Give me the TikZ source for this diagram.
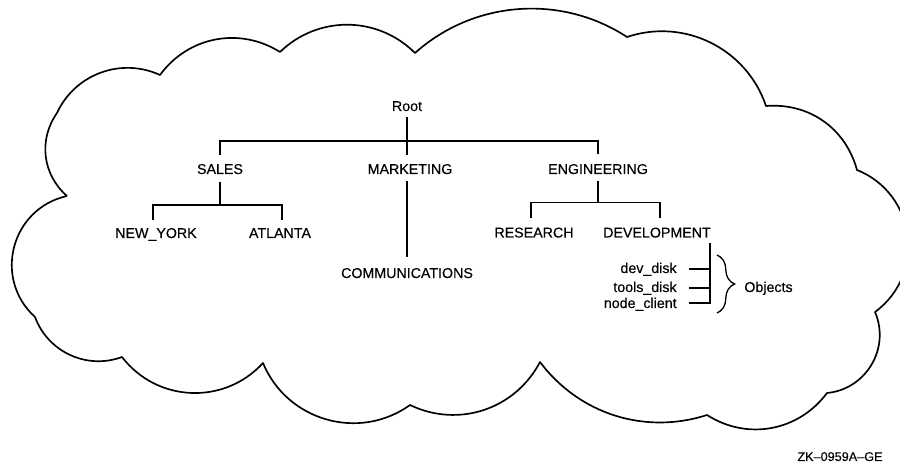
\documentclass[tikz,border=0pt]{standalone}
\usepackage{fontspec}
\setmainfont{Liberation Sans}
\newfontfamily\lblfamily{Liberation Sans}[FakeBold=0.25]
\usetikzlibrary{calc,decorations.pathreplacing}
\begin{document}
\begin{tikzpicture}[x=0.02cm,y=-0.02cm,
  lbl/.style={font=\lblfamily\fontsize{8.1}{9}\selectfont, inner sep=0pt, anchor=base},
  conn/.style={line width=0.85pt},
  cloudline/.style={line width=0.95pt, line join=round}]
\useasboundingbox (0,0) rectangle (900,462);
\begin{scope}
\clip (0,0) rectangle (900,462);
\draw[cloudline] (67,196) to[bend left=42] (57,113) to[bend left=45] (160,75)
  to[bend left=43] (280,52) to[bend left=44.5] (415,53)
  to[bend left=37.5,looseness=0.95] (627,37) to[bend left=45] (766,106)
  to[bend left=39.5] (857,170) to[bend left=61,looseness=1.14] (875,312)
  to[bend left=54,looseness=1.07] (827,393) to[bend left=43] (707,415)
  to[bend left=35.5,looseness=0.95] (540,362) to[bend left=44] (410,405)
  to[bend left=51.6,looseness=1.05] (263,363) to[bend left=50,looseness=1.04] (122,357)
  to[bend left=45] (35,317) to[bend left=62.6,looseness=1.17] (67,196);
\end{scope}

\node[lbl] (root) at (407,111) {Root};
\node[lbl] (sales) at (220,174) {SALES};
\node[lbl] (mkt) at (410,174) {MARKETING};
\node[lbl] (eng) at (598,174) {ENGINEERING};
\node[lbl] (ny) at (156,238) {NEW\_YORK};
\node[lbl] (atl) at (280,238) {ATLANTA};
\node[lbl] (comm) at (407,278) {COMMUNICATIONS};
\node[lbl] (res) at (534,237.5) {RESEARCH};
\node[lbl] (dev) at (657,237.5) {DEVELOPMENT};
\node[lbl,anchor=base east] (o1) at (677,273) {dev\_disk};
\node[lbl,anchor=base east] (o2) at (677,292) {tools\_disk};
\node[lbl,anchor=base east] (o3) at (677,308) {node\_client};
\node[lbl,anchor=base west] (objs) at (744,292) {Objects};
\node[font=\lblfamily\fontsize{7.2}{8}\selectfont, inner sep=0pt, anchor=base] (zk) at (840,461) {ZK–0959A–GE};

% Root to MARKETING and top bus
\draw[conn] ($(root.base)+(0,6)$) -- ($(root.base |- mkt.base)+(0,-19)$);
\draw[conn] ($(sales.base)+(0,-19)$) |- ($(eng.base)+(0,-33)$) -- ($(eng.base)+(0,-20)$);
% SALES branch
\draw[conn] ($(sales.base)+(0,8)$) -- ($(sales.base)+(0,31)$);
\draw[conn] ($(ny.base)+(-3,-18)$) |- ($(atl.base)+(2,-33)$) -- ($(atl.base)+(2,-18)$);
% MARKETING branch
\draw[conn] ($(root.base |- mkt.base)+(0,7)$) -- ($(comm.base)+(0,-21)$);
% ENGINEERING branch
\draw[conn] ($(eng.base)+(0,7)$) -- ($(eng.base)+(0,28.5)$);
\draw[conn] ($(res.base)+(-3,-19.5)$) |- ($(dev.base)+(3,-35)$) -- ($(dev.base)+(3,-19.5)$);
% DEVELOPMENT objects
\coordinate (dvtop) at ($(dev.base)+(53,5.5)$);
\draw[conn] ($(o1.base east)+(12,-4)$) -- ++(21,0);
\draw[conn] ($(o2.base east)+(12,-4)$) -- ++(21,0);
\draw[conn] ($(o3.base east)+(12,-5)$) -- ++(21,0) -- (dvtop);
% brace
\draw[line width=0.75pt, decorate, decoration={brace, amplitude=10pt}] (717,255) -- (717,313);
\end{tikzpicture}
\end{document}
